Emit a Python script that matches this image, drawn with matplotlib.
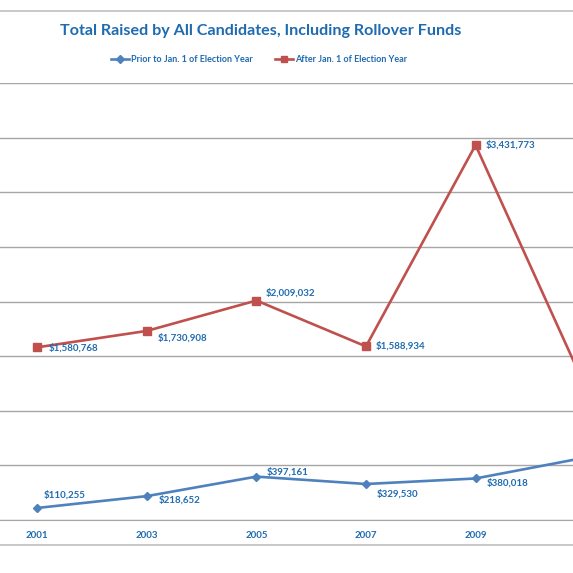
import matplotlib
matplotlib.use("Agg")
import matplotlib.pyplot as plt
from matplotlib.lines import Line2D

plt.rcParams['font.family'] = ['Lato', 'DejaVu Sans']

years = [2001, 2003, 2005, 2007, 2009, 2011]
prior = [110255, 218652, 397161, 329530, 380018, 571000]
after = [1580768, 1730908, 2009032, 1588934, 3431773, 1222000]

# label offsets in pixels (dx, dy)
prior_off = [(6, 13), (12, -4), (10, 5), (11, -10), (11, -4), (10, 0)]
after_off = [(11, -1), (11, -7), (9, 8), (10, 0), (10, 0), (10, 0)]

blue = '#4F81BD'
red = '#C0504D'
txt = '#1F6BB0'
grid = '#A6A6A6'

fig = plt.figure(figsize=(5.73, 5.73), dpi=100)
ax = fig.add_axes([0, 53 / 573, 1, 437 / 573])

ax.plot(years, prior, color=blue, lw=1.9, marker='D', ms=4.5, zorder=3)
ax.plot(years, after, color=red, lw=1.9, marker='s', ms=5.5, zorder=3)

for x, v, (dx, dy) in zip(years, prior, prior_off):
    ax.annotate('${:,}'.format(v), (x, v), xytext=(dx, dy), textcoords='offset pixels',
                ha='left', va='center', fontsize=7, fontweight='bold', color=txt,
                annotation_clip=True)
for x, v, (dx, dy) in zip(years, after, after_off):
    ax.annotate('${:,}'.format(v), (x, v), xytext=(dx, dy), textcoords='offset pixels',
                ha='left', va='center', fontsize=7, fontweight='bold', color=txt,
                annotation_clip=True)

ax.set_xticks(years)
ax.set_yticks(range(0, 4000001, 500000))
ax.set_xlim(2000.319, 2010.779)
ax.set_ylim(0, 4000000)
ax.set_yticklabels([])
ax.grid(axis='y', color=grid, lw=1)
ax.tick_params(axis='x', length=0, pad=8, labelsize=7, labelcolor=txt)
ax.tick_params(axis='y', length=0)
for lab in ax.get_xticklabels():
    lab.set_fontweight('bold')
for s in ['left', 'right', 'top']:
    ax.spines[s].set_visible(False)
ax.spines['bottom'].set_color(grid)
ax.set_axisbelow(True)

# chart frame lines
fig.add_artist(Line2D([0, 1], [1 - 10.5 / 573, 1 - 10.5 / 573], color='#BFBFBF', lw=1.2))
fig.add_artist(Line2D([0, 1], [1 - 545 / 573, 1 - 545 / 573], color='#BFBFBF', lw=1.2))

fig.text(261 / 573, 1 - 31 / 573, 'Total Raised by All Candidates, Including Rollover Funds',
         ha='center', va='center', fontsize=11.6, fontweight='bold', color=txt)

handles = [Line2D([], [], color=blue, lw=1.9, marker='D', ms=4),
           Line2D([], [], color=red, lw=1.9, marker='s', ms=5)]
fig.legend(handles, ['Prior to Jan. 1 of Election Year', 'After Jan. 1 of Election Year'],
           loc='center', bbox_to_anchor=(259 / 573, 1 - 60 / 573), ncol=2, frameon=False,
           handlelength=2, handletextpad=0.2, columnspacing=2.5,
           labelcolor=txt, prop={'weight': 'bold', 'size': 6.5})

fig.savefig('out.png', dpi=100, facecolor='white')
